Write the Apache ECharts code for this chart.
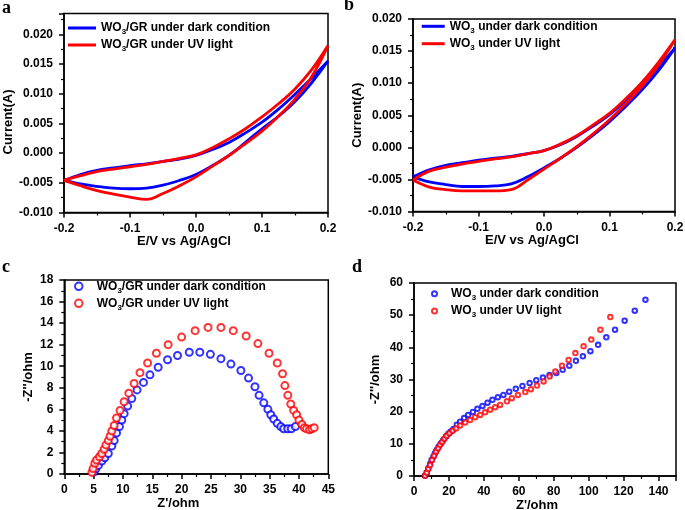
<!DOCTYPE html>
<html>
<head>
<meta charset="utf-8">
<script src="https://cdn.jsdelivr.net/npm/echarts@6/dist/echarts.min.js"></script>
<style>
  html, body { margin: 0; padding: 0; background: #fff; }
  #chart { width: 685px; height: 510px; }
</style>
</head>
<body>
<div id="chart"></div>
<script>
// potential sweep: -0.2 -> 0.2 -> -0.2 (V)
const cvPotential = [
  -0.2, -0.175, -0.15, -0.125, -0.1, -0.075, -0.05, -0.025, 0, 0.025, 0.05, 0.075, 0.1, 0.125, 0.15, 0.175, 0.2,
  0.175, 0.15, 0.125, 0.1, 0.075, 0.05, 0.025, 0, -0.025, -0.05, -0.075, -0.1, -0.125, -0.15, -0.175, -0.2
]
// panel a, WO3/GR
const aDark = [
  -0.0046, -0.0036, -0.0029, -0.0025, -0.0021, -0.0018, -0.0014, -0.0010, -0.0004, 0.0006, 0.0018, 0.0034, 0.0052, 0.0074, 0.0099, 0.0126, 0.0155,
  0.0118, 0.0087, 0.0062, 0.0041, 0.0018, -0.0004, -0.0021, -0.0036, -0.0046, -0.0054, -0.0059, -0.0060, -0.0059, -0.0056, -0.0052, -0.0046
]
const aUv = [
  -0.0046, -0.0038, -0.0031, -0.0027, -0.0023, -0.0019, -0.0014, -0.0009, -0.0003, 0.0009, 0.0024, 0.0041, 0.0061, 0.0083, 0.0108, 0.0140, 0.0181,
  0.0128, 0.0091, 0.0062, 0.0037, 0.0016, -0.0004, -0.0022, -0.0040, -0.0055, -0.0068, -0.0078, -0.0074, -0.0069, -0.0063, -0.0055, -0.0046
]
// panel b, WO3
const bDark = [
  -0.0046, -0.0035, -0.0028, -0.0024, -0.0020, -0.0017, -0.0014, -0.0010, -0.0005, 0.0004, 0.0017, 0.0033, 0.0051, 0.0073, 0.0098, 0.0125, 0.0155,
  0.0120, 0.0090, 0.0064, 0.0040, 0.0019, 0.0000, -0.0017, -0.0032, -0.0046, -0.0057, -0.0060, -0.0061, -0.0061, -0.0058, -0.0054, -0.0046
]
const bUv = [
  -0.0051, -0.0037, -0.0031, -0.0026, -0.0022, -0.0018, -0.0015, -0.0010, -0.0005, 0.0005, 0.0018, 0.0035, 0.0053, 0.0076, 0.0102, 0.0133, 0.0168,
  0.0128, 0.0096, 0.0068, 0.0043, 0.0021, 0.0001, -0.0017, -0.0034, -0.0051, -0.0066, -0.0068, -0.0068, -0.0068, -0.0066, -0.0062, -0.0051
]
// panel c, WO3/GR Nyquist (Z', -Z'')
const cDarkRe = [5.1, 5.4, 5.8, 6.4, 6.9, 7.5, 8.1, 8.5, 8.9, 9.4, 9.8, 10.2, 10.8, 11.5, 12.4, 13.5, 14.6, 16.0, 17.6, 19.3, 21.3, 23.1, 24.9, 26.7, 28.4, 30.1, 31.4, 32.5, 33.2, 34.0, 34.7, 35.2, 35.7, 36.3, 36.9, 37.4, 38.1, 38.7, 39.4]
const cDarkIm = [0.2, 0.5, 0.8, 1.2, 1.5, 1.9, 2.6, 3.1, 3.8, 4.4, 5.0, 5.6, 6.3, 7.0, 7.8, 8.5, 9.2, 9.9, 10.6, 11.0, 11.3, 11.3, 11.1, 10.7, 10.2, 9.6, 8.9, 8.1, 7.3, 6.6, 6.0, 5.5, 5.1, 4.7, 4.4, 4.2, 4.2, 4.2, 4.4]
const cUvRe = [4.7, 4.9, 5.2, 5.5, 6.0, 6.4, 6.8, 7.1, 7.5, 7.8, 8.1, 8.5, 8.9, 9.5, 10.2, 11.0, 11.9, 12.9, 14.2, 15.7, 17.7, 20.0, 22.3, 24.5, 26.7, 28.8, 31.0, 33.0, 34.9, 36.3, 37.2, 37.6, 38.1, 38.6, 39.1, 39.6, 40.0, 40.5, 40.9, 41.3, 41.8, 42.2, 42.6]
const cUvIm = [0.15, 0.5, 1.0, 1.3, 1.6, 1.9, 2.3, 2.7, 3.1, 3.5, 4.0, 4.5, 5.2, 5.9, 6.7, 7.5, 8.4, 9.4, 10.3, 11.2, 12.0, 12.7, 13.3, 13.6, 13.6, 13.3, 12.8, 12.1, 11.2, 10.3, 9.3, 8.2, 7.3, 6.5, 5.9, 5.5, 5.0, 4.6, 4.3, 4.2, 4.1, 4.2, 4.3]
// panel d, WO3 Nyquist
const dDarkRe = [6.3, 7.3, 8.2, 9.2, 10.1, 11.1, 12.0, 13.0, 14.1, 15.5, 16.8, 18.4, 19.7, 21.0, 22.6, 24.5, 26.4, 28.7, 31.0, 33.7, 36.3, 39.2, 42.1, 44.9, 48.0, 51.2, 54.5, 58.3, 62.1, 66.2, 70.0, 73.8, 77.6, 81.5, 85.1, 88.9, 92.7, 96.7, 101.0, 105.4, 110.1, 115.1, 120.6, 126.4, 132.5]
const dDarkIm = [0.1, 1.1, 2.4, 3.7, 5.0, 6.0, 7.1, 8.1, 9.1, 10.2, 11.2, 12.3, 13.1, 13.8, 14.6, 15.9, 16.9, 18.0, 19.0, 19.9, 20.9, 21.8, 22.8, 23.7, 24.5, 25.2, 26.2, 27.1, 28.0, 28.9, 29.8, 30.6, 31.4, 32.0, 33.0, 34.3, 35.8, 37.2, 38.8, 40.8, 43.1, 45.5, 48.3, 51.4, 54.8]
const dUvRe = [6.3, 7.3, 8.2, 9.2, 10.3, 11.5, 12.6, 13.8, 14.9, 16.1, 17.4, 18.7, 20.3, 22.2, 24.1, 26.4, 29.3, 32.1, 35.0, 37.9, 40.7, 43.6, 46.5, 49.3, 53.2, 56.0, 59.5, 63.7, 66.9, 70.4, 74.2, 77.6, 80.9, 84.7, 88.5, 92.4, 97.1, 101.5, 106.7, 112.4]
const dUvIm = [0.1, 1.0, 2.2, 3.4, 5.0, 6.3, 7.6, 8.6, 9.7, 10.6, 11.6, 12.5, 13.3, 14.1, 14.8, 15.7, 16.6, 17.4, 18.3, 19.0, 19.8, 20.6, 21.4, 22.1, 23.2, 24.2, 25.2, 26.1, 27.0, 28.1, 29.4, 30.9, 32.5, 34.3, 36.1, 38.2, 40.3, 42.4, 45.5, 49.4]

const FONT = '"Liberation Sans", Arial, sans-serif'
const BLUE = '#0000ff'
const RED = '#ff0000'

const zip = (xs, ys) => xs.map((x, i) => [x, ys[i]])

const legendRich = {
  n: {fontFamily: FONT, fontWeight: 'bold', fontSize: 12, color: '#000', lineHeight: 16},
  s: {fontFamily: FONT, fontWeight: 'bold', fontSize: 8, color: '#000', lineHeight: 16, verticalAlign: 'bottom'}
}
const legendFmt = (name) => '{n|WO}{s|3}{n|' + name.trim().slice(3) + '}'

const valueAxis = (idx, o) => ({
  type: 'value',
  gridIndex: idx,
  min: o.min,
  max: o.max,
  interval: o.interval,
  name: o.name,
  nameLocation: 'middle',
  nameGap: o.nameGap,
  nameRotate: o.nameRotate,
  nameTextStyle: {fontFamily: FONT, fontWeight: 'bold', fontSize: 13, color: '#000', padding: o.namePad || 0},
  axisLine: {show: true, onZero: false, lineStyle: {color: '#000', width: 1.5}},
  axisTick: {show: true, length: 5, lineStyle: {color: '#000', width: 1.5}},
  minorTick: {show: true, splitNumber: 2, length: 3, lineStyle: {color: '#000', width: 1.2}},
  splitLine: {show: false},
  axisLabel: {
    fontFamily: FONT, fontWeight: 'bold', fontSize: 12, color: '#000', margin: o.margin || 8,
    showMaxLabel: o.hideMax ? false : true,
    formatter: (v) => o.digits !== undefined ? v.toFixed(o.digits) : String(v)
  }
})

const gridBox = (left, top, width, height) => ({
  left, top, width, height,
  show: true, borderColor: '#000', borderWidth: 1.5,
  outerBoundsMode: 'none', containLabel: false
})

const myChart = echarts.init(document.getElementById('chart'))

const option = {
  animation: false,
  backgroundColor: '#fff',
  grid: [
    gridBox(64, 13.5, 264, 199),
    gridBox(413, 19, 262, 192.5),
    gridBox(64.3, 280, 264, 194),
    gridBox(414, 283, 262, 193)
  ],
  xAxis: [
    valueAxis(0, {min: -0.2, max: 0.2, interval: 0.1, digits: 1, name: 'E/V vs Ag/AgCl', nameGap: 21, namePad: [0, 24, 0, 0], margin: 10}),
    valueAxis(1, {min: -0.2, max: 0.2, interval: 0.1, digits: 1, name: 'E/V vs Ag/AgCl', nameGap: 21, namePad: [0, 24, 0, 0], margin: 10}),
    valueAxis(2, {min: 0, max: 45, interval: 5, name: "Z'/ohm", nameGap: 20, namePad: [0, 36, 0, 0], margin: 10}),
    valueAxis(3, {min: 0, max: 150, interval: 20, name: "Z'/ohm", nameGap: 20, namePad: [0, 16, 0, 0], margin: 10, hideMax: true})
  ],
  yAxis: [
    valueAxis(0, {min: -0.010, max: 0.0235, interval: 0.005, digits: 3, name: 'Current(A)', nameGap: 48, nameRotate: 90, namePad: [0, 18, 0, 0], margin: 11, hideMax: true}),
    valueAxis(1, {min: -0.010, max: 0.020, interval: 0.005, digits: 3, name: 'Current(A)', nameGap: 49, nameRotate: 90, margin: 11}),
    valueAxis(2, {min: 0, max: 18, interval: 2, name: "-Z''/ohm", nameGap: 29, nameRotate: 90, margin: 11}),
    valueAxis(3, {min: 0, max: 60, interval: 10, name: "-Z''/ohm", nameGap: 32, nameRotate: 90, margin: 11})
  ],
  legend: [
    {
      data: [{name: 'WO3/GR under dark condition', icon: 'rect'}, {name: 'WO3/GR under UV light', icon: 'rect'}],
      orient: 'vertical', left: 68, top: 22, padding: 0, itemGap: 3,
      itemWidth: 28, itemHeight: 3, selectedMode: false,
      formatter: legendFmt, textStyle: {rich: legendRich}
    },
    {
      data: [{name: 'WO3 under dark condition', icon: 'rect'}, {name: 'WO3 under UV light', icon: 'rect'}],
      orient: 'vertical', left: 421.7, top: 20.3, padding: 0, itemGap: 3.4,
      itemWidth: 23, itemHeight: 3, selectedMode: false,
      formatter: legendFmt, textStyle: {rich: legendRich}
    },
    {
      data: ['WO3/GR under dark condition ', 'WO3/GR under UV light '],
      orient: 'vertical', left: 74, top: 280.3, padding: 0, itemGap: 3,
      itemWidth: 26, itemHeight: 7.5, selectedMode: false,
      formatter: legendFmt, textStyle: {rich: legendRich}
    },
    {
      data: ['WO3 under dark condition ', 'WO3 under UV light '],
      orient: 'vertical', left: 431, top: 287.7, padding: 0, itemGap: 3.3,
      itemWidth: 23, itemHeight: 5, selectedMode: false,
      formatter: legendFmt, textStyle: {rich: legendRich}
    }
  ],
  graphic: [
    {type: 'text', x: 2, y: 17, style: {text: 'a', font: 'bold 18px "Liberation Serif", serif', fill: '#000', verticalAlign: 'bottom'}},
    {type: 'text', x: 344, y: 14, style: {text: 'b', font: 'bold 18px "Liberation Serif", serif', fill: '#000', verticalAlign: 'bottom'}},
    {type: 'text', x: 2, y: 276, style: {text: 'c', font: 'bold 18px "Liberation Serif", serif', fill: '#000', verticalAlign: 'bottom'}},
    {type: 'text', x: 352, y: 276, style: {text: 'd', font: 'bold 18px "Liberation Serif", serif', fill: '#000', verticalAlign: 'bottom'}}
  ],
  series: [
    {name: 'WO3/GR under dark condition', type: 'line', xAxisIndex: 0, yAxisIndex: 0, data: zip(cvPotential, aDark),
      symbol: 'none', smooth: 0.4, lineStyle: {color: BLUE, width: 2.8}, itemStyle: {color: BLUE}},
    {name: 'WO3/GR under UV light', type: 'line', xAxisIndex: 0, yAxisIndex: 0, data: zip(cvPotential, aUv),
      symbol: 'none', smooth: 0.4, lineStyle: {color: RED, width: 2.8}, itemStyle: {color: RED}},
    {name: 'WO3 under dark condition', type: 'line', xAxisIndex: 1, yAxisIndex: 1, data: zip(cvPotential, bDark),
      symbol: 'none', smooth: 0.4, lineStyle: {color: BLUE, width: 2.8}, itemStyle: {color: BLUE}},
    {name: 'WO3 under UV light', type: 'line', xAxisIndex: 1, yAxisIndex: 1, data: zip(cvPotential, bUv),
      symbol: 'none', smooth: 0.4, lineStyle: {color: RED, width: 2.8}, itemStyle: {color: RED}},
    {name: 'WO3/GR under dark condition ', type: 'scatter', xAxisIndex: 2, yAxisIndex: 2, data: zip(cDarkRe, cDarkIm),
      symbol: 'emptyCircle', symbolSize: 7, itemStyle: {color: BLUE, borderWidth: 2.6}},
    {name: 'WO3/GR under UV light ', type: 'scatter', xAxisIndex: 2, yAxisIndex: 2, data: zip(cUvRe, cUvIm),
      symbol: 'emptyCircle', symbolSize: 7, itemStyle: {color: RED, borderWidth: 3.4}},
    {name: 'WO3 under dark condition ', type: 'scatter', xAxisIndex: 3, yAxisIndex: 3, data: zip(dDarkRe, dDarkIm),
      symbol: 'emptyCircle', symbolSize: 4.5, itemStyle: {color: BLUE, borderWidth: 1.5}},
    {name: 'WO3 under UV light ', type: 'scatter', xAxisIndex: 3, yAxisIndex: 3, data: zip(dUvRe, dUvIm),
      symbol: 'emptyCircle', symbolSize: 4.5, itemStyle: {color: RED, borderWidth: 1.5}}
  ]
}

myChart.setOption(option)
</script>
</body>
</html>
